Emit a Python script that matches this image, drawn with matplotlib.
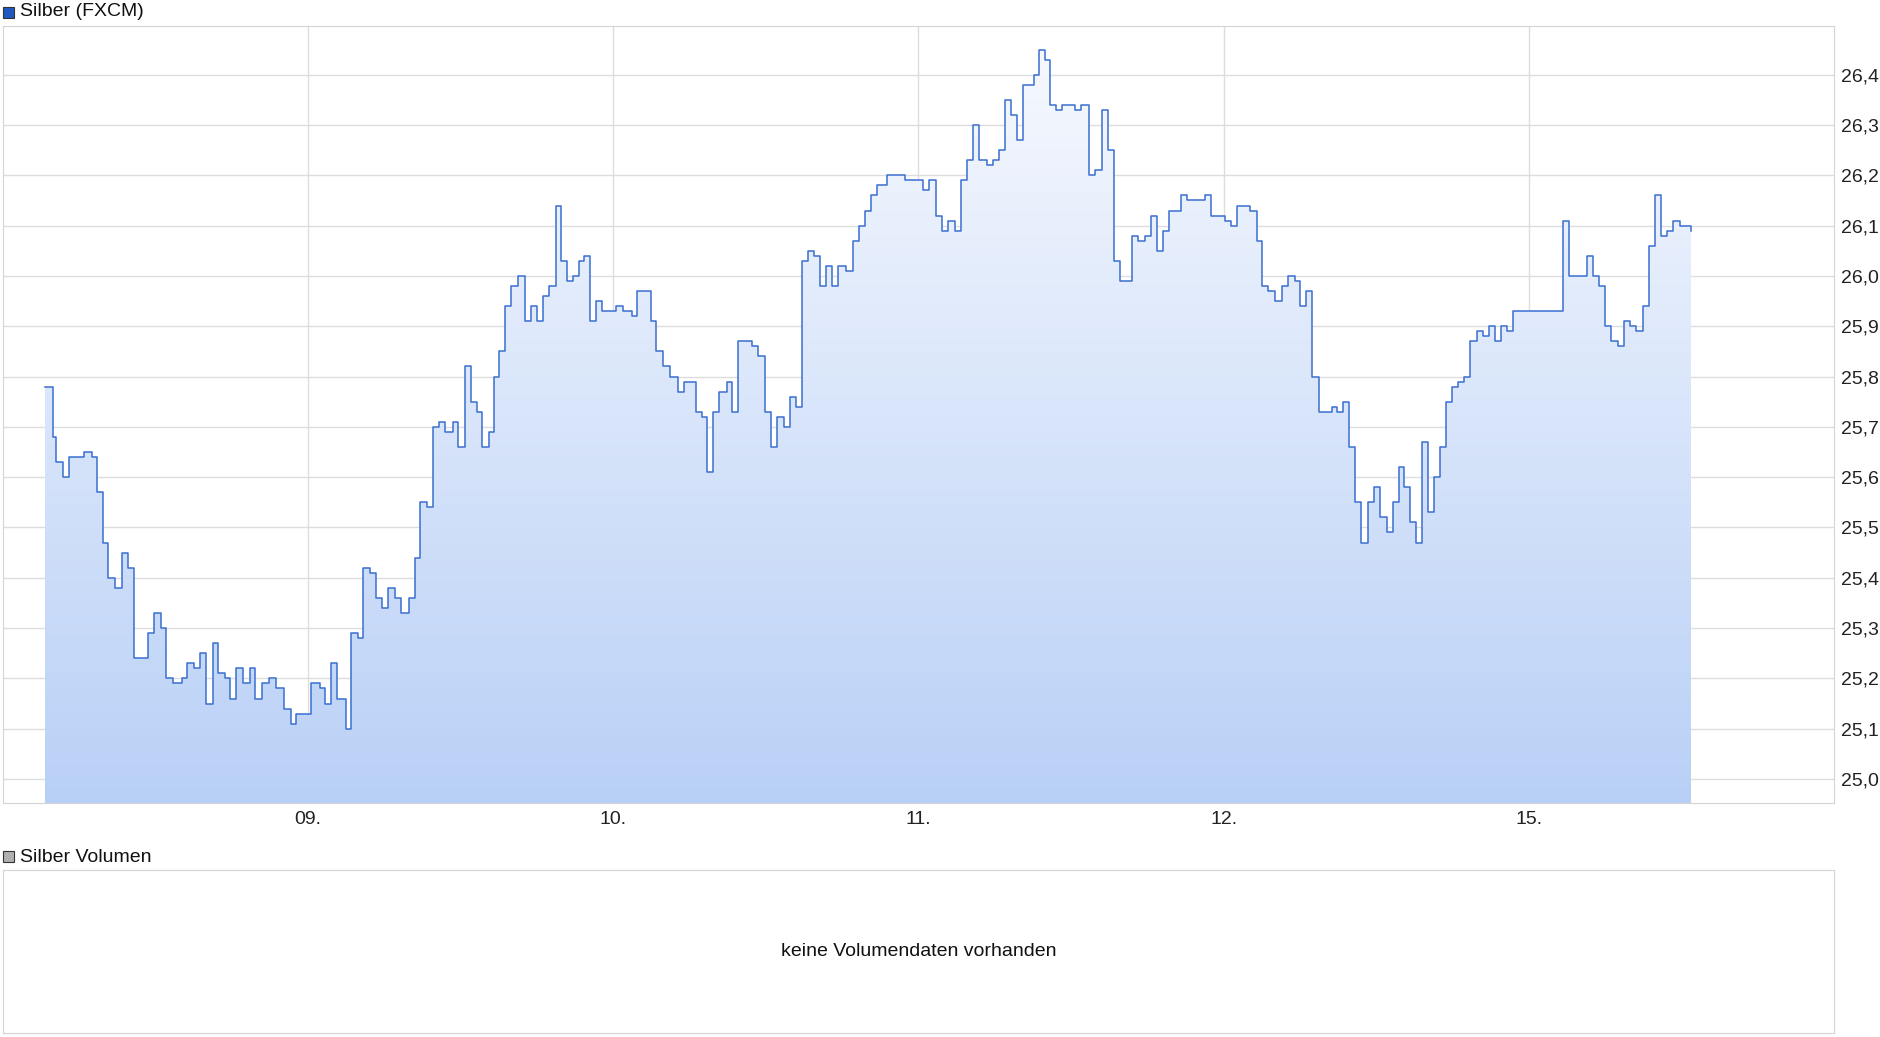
import numpy as np
import matplotlib
matplotlib.use("Agg")
import matplotlib.pyplot as plt
from matplotlib.patches import Rectangle

# time in trading days (0 = start of 08.), price in USD
times = [0.139, .151, .163, .175, .195, .215, .251, .267, .291, .307, .327, .343, .367, .390, .410,
         .430, .458, .474, .494, .518, .534, .558, .586, .602, .625, .645, .665, .689, .705, .729,
         .745, .765, .785, .809, .825, .849, .873, .896, .920, .944, .960, .992, 1.008, 1.040, 1.056,
         1.076, 1.096, 1.124, 1.139, 1.163, 1.179, 1.203, 1.223, 1.243, 1.263, 1.283, 1.303, 1.331,
         1.351, 1.367, 1.390, 1.410, 1.430, 1.450, 1.474, 1.490, 1.514, 1.534, 1.554, 1.570, 1.594,
         1.610, 1.625, 1.645, 1.665, 1.689, 1.709, 1.729, 1.749, 1.769, 1.789, 1.813, 1.829, 1.849,
         1.869, 1.888, 1.904, 1.924, 1.944, 1.964, 2.008, 2.032, 2.060, 2.076, 2.100, 2.124, 2.139,
         2.163, 2.187, 2.211, 2.231, 2.255, 2.271, 2.291, 2.307, 2.327, 2.347, 2.371, 2.390, 2.410,
         2.454, 2.474, 2.498, 2.518, 2.538, 2.558, 2.578, 2.598, 2.618, 2.637, 2.657, 2.677, 2.697,
         2.717, 2.737, 2.761, 2.785, 2.805, 2.825, 2.845, 2.865, 2.896, 2.924, 2.956, 2.996, 3.016,
         3.036, 3.056, 3.076, 3.096, 3.120, 3.139, 3.159, 3.179, 3.199, 3.223, 3.243, 3.263, 3.283,
         3.303, 3.323, 3.343, 3.363, 3.378, 3.394, 3.414, 3.430, 3.450, 3.470, 3.494, 3.514, 3.534,
         3.558, 3.578, 3.602, 3.622, 3.641, 3.661, 3.681, 3.701, 3.721, 3.741, 3.761, 3.781, 3.801,
         3.821, 3.841, 3.861, 3.880, 3.908, 3.940, 3.960, 3.984, 4.004, 4.024, 4.044, 4.068, 4.088,
         4.108, 4.127, 4.147, 4.167, 4.191, 4.211, 4.235, 4.251, 4.271, 4.291, 4.311, 4.331, 4.355,
         4.371, 4.390, 4.410, 4.430, 4.450, 4.474, 4.494, 4.514, 4.534, 4.554, 4.574, 4.590, 4.610,
         4.629, 4.649, 4.669, 4.689, 4.709, 4.729, 4.749, 4.769, 4.789, 4.809, 4.829, 4.849, 4.869,
         4.888, 4.908, 4.928, 4.948, 4.968, 5.088, 5.112, 5.131, 5.151, 5.171, 5.191, 5.211, 5.231,
         5.251, 5.271, 5.291, 5.311, 5.331, 5.351, 5.375, 5.394, 5.414, 5.434, 5.454, 5.474, 5.494,
         5.530]
prices = [25.78, 25.78, 25.68, 25.63, 25.60, 25.64, 25.64, 25.65, 25.64, 25.57, 25.47, 25.40, 25.38, 25.45, 25.42,
          25.24, 25.24, 25.29, 25.33, 25.30, 25.20, 25.19, 25.20, 25.23, 25.22, 25.25, 25.15, 25.27, 25.21, 25.20,
          25.16, 25.22, 25.19, 25.22, 25.16, 25.19, 25.20, 25.18, 25.14, 25.11, 25.13, 25.13, 25.19, 25.18, 25.15,
          25.23, 25.16, 25.10, 25.29, 25.28, 25.42, 25.41, 25.36, 25.34, 25.38, 25.36, 25.33, 25.36,
          25.44, 25.55, 25.54, 25.70, 25.71, 25.69, 25.71, 25.66, 25.82, 25.75, 25.73, 25.66, 25.69,
          25.80, 25.85, 25.94, 25.98, 26.00, 25.91, 25.94, 25.91, 25.96, 25.98, 26.14, 26.03, 25.99,
          26.00, 26.03, 26.04, 25.91, 25.95, 25.93, 25.94, 25.93, 25.92, 25.97, 25.97, 25.91, 25.85,
          25.82, 25.80, 25.77, 25.79, 25.79, 25.73, 25.72, 25.61, 25.73, 25.77, 25.79, 25.73, 25.87,
          25.86, 25.84, 25.73, 25.66, 25.72, 25.70, 25.76, 25.74, 26.03, 26.05, 26.04, 25.98, 26.02,
          25.98, 26.02, 26.01, 26.07, 26.10, 26.13, 26.16, 26.18, 26.20, 26.20, 26.19, 26.19, 26.17,
          26.19, 26.12, 26.09, 26.11, 26.09, 26.19, 26.23, 26.30, 26.23, 26.22, 26.23, 26.25, 26.35,
          26.32, 26.27, 26.38, 26.38, 26.40, 26.45, 26.43, 26.34, 26.33, 26.34, 26.34, 26.33, 26.34,
          26.20, 26.21, 26.33, 26.25, 26.03, 25.99, 25.99, 26.08, 26.07, 26.08, 26.12, 26.05, 26.09,
          26.13, 26.13, 26.16, 26.15, 26.15, 26.16, 26.12, 26.12, 26.11, 26.10, 26.14, 26.14, 26.13,
          26.07, 25.98, 25.97, 25.95, 25.98, 26.00, 25.99, 25.94, 25.97, 25.80, 25.73, 25.73, 25.74,
          25.73, 25.75, 25.66, 25.55, 25.47, 25.55, 25.58, 25.52, 25.49, 25.55, 25.62, 25.58, 25.51,
          25.47, 25.67, 25.53, 25.60, 25.66, 25.75, 25.78, 25.79, 25.80, 25.87, 25.89, 25.88, 25.90,
          25.87, 25.90, 25.89, 25.93, 25.93, 25.93, 26.11, 26.00, 26.00, 26.00, 26.04, 26.00, 25.98,
          25.90, 25.87, 25.86, 25.91, 25.90, 25.89, 25.94, 26.06, 26.16, 26.08, 26.09, 26.11, 26.10,
          26.09]

day_ticks = [1, 2, 3, 4, 5]
day_labels = ["09.", "10.", "11.", "12.", "15."]
price_ticks = [25.0, 25.1, 25.2, 25.3, 25.4, 25.5, 25.6, 25.7, 25.8, 25.9, 26.0, 26.1, 26.2, 26.3, 26.4]

LINE = "#3a6fd0"
GRID = "#dddddd"
EDGE = "#d4d4d4"
plt.rcParams["font.family"] = ["Liberation Sans", "DejaVu Sans"]

fig = plt.figure(figsize=(18.8, 10.37), dpi=100)
ax = fig.add_axes([0.0016, 0.226, 0.9739, 0.749])
ymin, ymax = 24.953, 26.497
ax.set_xlim(0, 6)
ax.set_ylim(ymin, ymax)

# gradient fill under the line: light at top, stronger blue at the bottom
frac = np.linspace(0, 1, 256).reshape(-1, 1, 1)
top_c = np.array([0.965, 0.975, 0.997])
bot_c = np.array([0.725, 0.816, 0.965])
img = top_c * (1 - frac) + bot_c * frac
im = ax.imshow(img, extent=[times[0], times[-1], ymin, max(prices)], aspect="auto",
               origin="upper", zorder=1)
poly = ax.fill_between(times, prices, ymin, color="none", step="post")
im.set_clip_path(poly.get_paths()[0], transform=ax.transData)
ax.plot(times, prices, color=LINE, lw=1.1, zorder=3, drawstyle="steps-post")

ax.set_xticks(day_ticks)
ax.set_xticklabels(day_labels)
ax.set_yticks(price_ticks)
ax.set_yticklabels([f"{v:.1f}".replace(".", ",") for v in price_ticks])
ax.yaxis.tick_right()
ax.tick_params(length=0, labelsize=14, colors="#222222", pad=5)
ax.tick_params(axis="x", pad=6)
ax.grid(True, color=GRID, lw=1, zorder=0)
ax.set_axisbelow(True)
for s in ax.spines.values():
    s.set_color(EDGE)

fig.add_artist(Rectangle((0.0016, 0.983), 0.0058, 0.0105, transform=fig.transFigure,
                         facecolor="#1f57c3", edgecolor="#333333", lw=0.8))
fig.text(0.0106, 0.989, "Silber (FXCM)", fontsize=14, va="center", color="#111111")

# volume panel
vax = fig.add_axes([0.0016, 0.004, 0.9739, 0.157])
vax.set_xticks([])
vax.set_yticks([])
for s in vax.spines.values():
    s.set_color(EDGE)
vax.text(0.5, 0.5, "keine Volumendaten vorhanden", transform=vax.transAxes,
         ha="center", va="center", fontsize=14, color="#111111")
fig.add_artist(Rectangle((0.0016, 0.1685), 0.0058, 0.0105, transform=fig.transFigure,
                         facecolor="#b0b0b0", edgecolor="#333333", lw=0.8))
fig.text(0.0106, 0.1735, "Silber Volumen", fontsize=14, va="center", color="#111111")

fig.savefig("out.png", dpi=100, facecolor="white")
